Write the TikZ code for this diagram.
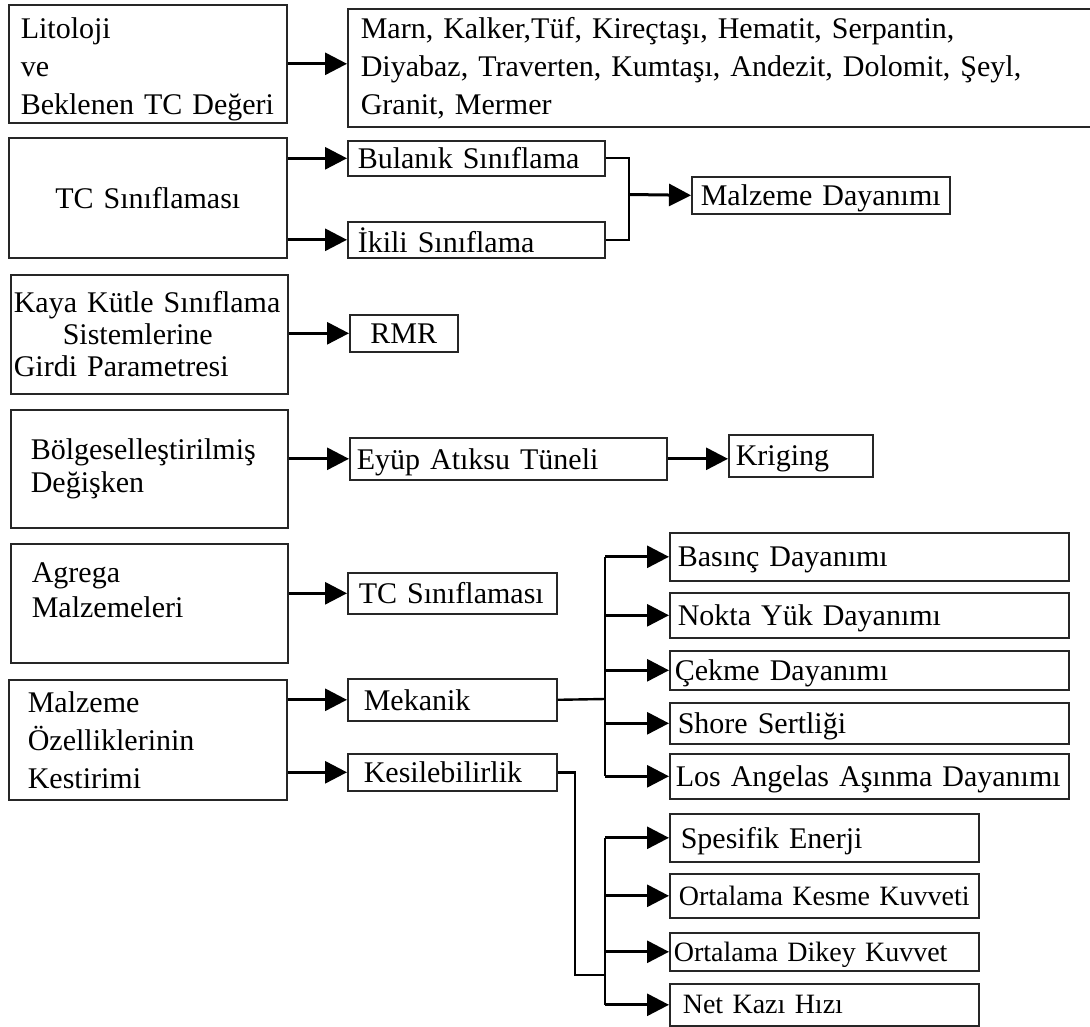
\documentclass[tikz,border=0pt]{standalone}
\usepackage{fontspec}
\setmainfont{Liberation Serif}
\usetikzlibrary{arrows.meta}

\begin{document}
\begin{tikzpicture}[x=1pt, y=-1pt,
    kutu/.style={draw=black!85, line width=1.6pt, anchor=north west, inner ysep=0pt,
        align=left, font=\fontsize{30}{38}\selectfont},
    tek/.style={kutu, text depth=0pt},
    ok/.style={line width=3pt, -{Triangle[length=22pt,width=22pt]}},
    hat/.style={line width=2.4pt}]
\useasboundingbox (0,0) rectangle (1090,1027);

% Sol sütun: ana kutular
\node[kutu, inner xsep=12pt, text width=254pt, minimum height=118pt] (lito) at (8,4)
    {\rule{0pt}{31pt}Litoloji\\ve\\Beklenen TC Değeri};
\node[tek, align=center, inner xsep=10pt, text width=258pt, minimum height=120pt] (tcsinif) at (8,137)
    {TC Sınıflaması};
\node[kutu, inner xsep=3pt, text width=271pt, minimum height=119pt,
    font=\fontsize{30}{32}\selectfont] (kaya) at (10,274)
    {Kaya Kütle Sınıflama\\\hspace*{49pt}Sistemlerine\\Girdi Parametresi};
\node[kutu, inner xsep=20pt, text width=237pt, minimum height=118pt,
    font=\fontsize{30}{33}\selectfont] (bolge) at (10,409)
    {Bölgeselleştirilmiş\\Değişken};
\node[kutu, inner xsep=21pt, text width=235pt, minimum height=119pt,
    font=\fontsize{30}{35}\selectfont] (agrega) at (10,543)
    {Agrega\\Malzemeleri\\[-20pt]\strut};
\node[kutu, inner xsep=19pt, text width=240pt, minimum height=120pt] (ozellik) at (8,679)
    {Malzeme\\Özelliklerinin\\Kestirimi};

% Orta sütun
\node[kutu, inner xsep=13pt, text width=734pt, minimum height=118pt] (kayac) at (347,8)
    {Marn, Kalker,Tüf, Kireçtaşı, Hematit, Serpantin,\\
     Diyabaz, Traverten, Kumtaşı, Andezit, Dolomit, Şeyl,\\
     Granit, Mermer};
\node[tek, inner xsep=10pt, text width=237pt, minimum height=35pt] (bulanik) at (347,140) {Bulanık Sınıflama};
\node[tek, inner xsep=10pt, text width=237pt, minimum height=36pt] (ikili) at (347,221) {İkili Sınıflama};
\node[tek, inner xsep=9pt, text width=240pt, minimum height=37pt] (dayanim) at (691,176) {Malzeme Dayanımı};
\node[tek, align=center, inner xsep=5pt, text width=98pt, minimum height=37pt] (rmr) at (349,314) {RMR};
\node[tek, inner xsep=7pt, text width=303pt, minimum height=42pt] (eyup) at (349,437) {Eyüp Atıksu Tüneli};
\node[tek, inner xsep=7pt, text width=130pt, minimum height=42pt] (kriging) at (728,434) {Kriging};
\node[tek, inner xsep=11pt, text width=187pt, minimum height=41pt] (tcs) at (347,572) {\mbox{TC Sınıflaması}};
\node[tek, inner xsep=16pt, text width=177pt, minimum height=42pt] (mekanik) at (347,678) {Mekanik};
\node[tek, inner xsep=16pt, text width=177pt, minimum height=37pt] (kesil) at (347,753) {Kesilebilirlik};

% Sağ sütun: mekanik özellikler
\node[tek, inner xsep=8pt, text width=383pt, minimum height=48pt] (basinc) at (669,532) {Basınç Dayanımı};
\node[tek, inner xsep=8pt, text width=383pt, minimum height=45pt] (nokta) at (669,592) {Nokta Yük Dayanımı};
\node[tek, inner xsep=5pt, text width=389pt, minimum height=39pt] (cekme) at (669,650) {Çekme Dayanımı};
\node[tek, inner xsep=8pt, text width=383pt, minimum height=41pt] (shore) at (669,702) {Shore Sertliği};
\node[tek, inner xsep=6pt, text width=387pt, minimum height=45pt] (losang) at (669,753) {Los Angelas Aşınma Dayanımı};

% Sağ sütun: kesilebilirlik
\node[tek, inner xsep=11pt, text width=287pt, minimum height=48pt] (spesifik) at (669,813) {Spesifik Enerji};
\node[tek, inner xsep=9pt, text width=291pt, minimum height=44pt, font=\fontsize{28}{34}\selectfont] (kesme) at (669,873) {Ortalama Kesme Kuvveti};
\node[tek, inner xsep=4pt, text width=301pt, minimum height=38pt, font=\fontsize{28}{34}\selectfont] (dikey) at (669,932) {Ortalama Dikey Kuvvet};
\node[tek, inner xsep=13pt, text width=283pt, minimum height=42pt, font=\fontsize{28}{34}\selectfont] (netkazi) at (669,983) {Net Kazı Hızı};

% Oklar
\draw[ok] (lito.east) -- (lito.east -| kayac.west);
\draw[ok] (bulanik.west -| tcsinif.east) -- (bulanik.west);
\draw[ok] (ikili.west -| tcsinif.east) -- (ikili.west);
\draw[ok] (rmr.west -| kaya.east) -- (rmr.west);
\draw[ok] (eyup.west -| bolge.east) -- (eyup.west);
\draw[ok] (eyup.east) -- (eyup.east -| kriging.west);
\draw[ok] (tcs.west -| agrega.east) -- (tcs.west);
\draw[ok] (mekanik.west -| ozellik.east) -- (mekanik.west);
\draw[ok] (kesil.west -| ozellik.east) -- (kesil.west);

% Birleşme: bulanık + ikili
\coordinate (b1) at (629,194.5);
\draw[line width=1.8pt] (bulanik.east) -| (b1) |- (ikili.east);
\draw[ok] (b1) -- (dayanim.west);

% Mekanik dalları
\coordinate (m1) at (605,699);
\draw[hat] (mekanik.east) -- (m1);
\draw[hat] (m1 |- basinc.west) -- (m1 |- losang.west);
\foreach \n in {basinc,nokta,cekme,shore,losang}
    \draw[ok] (m1 |- \n.west) -- (\n.west);

% Kesilebilirlik dalları
\coordinate (k1) at (575,975);
\coordinate (k2) at (605,975);
\draw[hat] (kesil.east) -| (k1) -- (k2);
\draw[hat] (k2 |- spesifik.west) -- (k2 |- netkazi.west);
\foreach \n in {spesifik,kesme,dikey,netkazi}
    \draw[ok] (k2 |- \n.west) -- (\n.west);

\end{tikzpicture}
\end{document}
